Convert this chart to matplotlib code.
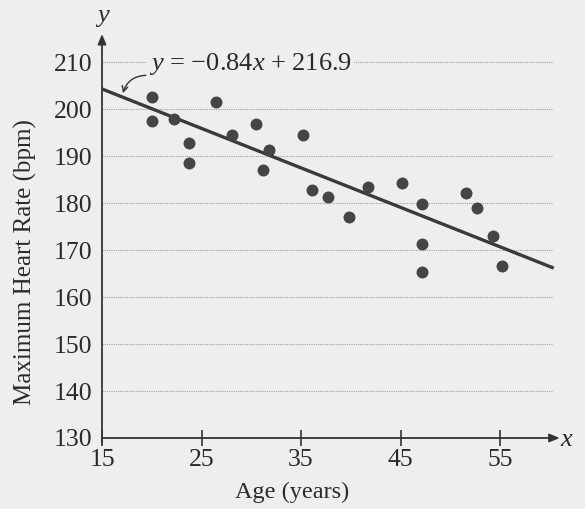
import matplotlib
matplotlib.use("Agg")
import matplotlib.pyplot as plt
import numpy as np

plt.rcParams['font.family'] = ['Liberation Serif', 'DejaVu Serif']
plt.rcParams['mathtext.fontset'] = 'custom'
plt.rcParams['mathtext.rm'] = 'Liberation Serif'
plt.rcParams['mathtext.it'] = 'Liberation Serif:italic'

# Data
age = [20.0, 20.0, 22.2, 23.7, 23.7, 26.5, 28.1, 30.5, 31.8, 31.2, 35.2, 36.1,
       37.7, 39.8, 41.7, 45.2, 47.2, 47.2, 47.2, 51.6, 52.7, 54.3, 55.2]
max_hr = [202.6, 197.5, 197.8, 192.7, 188.5, 201.5, 194.4, 196.8, 191.4, 187.1,
          194.4, 182.7, 181.2, 177.0, 183.4, 184.2, 179.8, 171.3, 165.4, 182.1,
          179.0, 173.1, 166.7]
slope = -0.84
intercept = 216.9
x_ticks = [15, 25, 35, 45, 55]
y_ticks = [130, 140, 150, 160, 170, 180, 190, 200, 210]

W, H = 585, 509
bg = '#eeeeee'
fig = plt.figure(figsize=(W / 100, H / 100), dpi=100, facecolor=bg)
ax = fig.add_axes([102 / W, 71 / H, (559.7 - 102) / W, (475 - 71) / H])
ax.set_facecolor(bg)

xmin, xmax = 15, 61
ymin, ymax = 130, 216
ax.set_xlim(xmin, xmax)
ax.set_ylim(ymin, ymax)

# gridlines
for yv in y_ticks[1:]:
    ax.plot([xmin, 60.3], [yv, yv], color='#a0a0a0', lw=0.8, ls=(0, (1, 1)), zorder=1)

# regression line
xl = np.array([xmin, 60.4])
ax.plot(xl, slope * xl + intercept, color='#3a3a3a', lw=2.4, zorder=3,
        solid_capstyle='butt')

# points
ax.plot(age, max_hr, 'o', color='#454545', ms=8.6, mec='none', zorder=4)

# axes with arrows
for s in ax.spines.values():
    s.set_visible(False)
ax.annotate('', xy=(1.0, 0), xytext=(0, 0), xycoords='axes fraction',
            arrowprops=dict(arrowstyle='-|>,head_length=0.6,head_width=0.25',
                            color='#333333', lw=1.3, shrinkA=0, shrinkB=0))
ax.annotate('', xy=(0, 1.0), xytext=(0, -0.012), xycoords='axes fraction',
            arrowprops=dict(arrowstyle='-|>,head_length=0.6,head_width=0.25',
                            color='#333333', lw=1.3, shrinkA=0, shrinkB=0))

ax.set_xticks(x_ticks)
ax.set_xticklabels([str(v) for v in x_ticks])
ax.set_yticks(y_ticks)
ax.set_yticklabels([str(v) for v in y_ticks])
ax.tick_params(axis='x', direction='inout', length=12, width=1.2, color='#333333',
               labelsize=18.5, pad=2, labelcolor='#2a2a2a')
ax.tick_params(axis='y', length=0, labelsize=18.5, pad=7, labelcolor='#2a2a2a')

# equation label
ax.text(19.7, 209.6, r'$y$ = −0.84$x$ + 216.9', fontsize=19, color='#2a2a2a',
        ha='left', va='center', zorder=5,
        bbox=dict(facecolor=bg, edgecolor='none', pad=1.5))
ax.annotate('', xy=(17.1, 203.4), xytext=(19.4, 207.2), xycoords='data',
            arrowprops=dict(arrowstyle='->,head_length=0.4,head_width=0.2',
                            color='#333333', lw=1.0,
                            connectionstyle='arc3,rad=0.35', shrinkA=0, shrinkB=0))

# axis letters and titles
fig.text(566 / W, 1 - 440 / H, 'x', fontsize=19, style='italic', ha='center',
         va='center', color='#2a2a2a')
fig.text(103 / W, 1 - 16 / H, 'y', fontsize=19, style='italic', ha='center',
         va='center', color='#2a2a2a')
fig.text(292 / W, 1 - 492 / H, 'Age (years)', fontsize=17.5, ha='center', va='center',
         color='#2a2a2a')
fig.text(25 / W, 1 - 262 / H, 'Maximum Heart Rate (bpm)', fontsize=18, ha='center',
         va='center', rotation=90, color='#2a2a2a')

fig.savefig('out.png', dpi=100, facecolor=bg)
